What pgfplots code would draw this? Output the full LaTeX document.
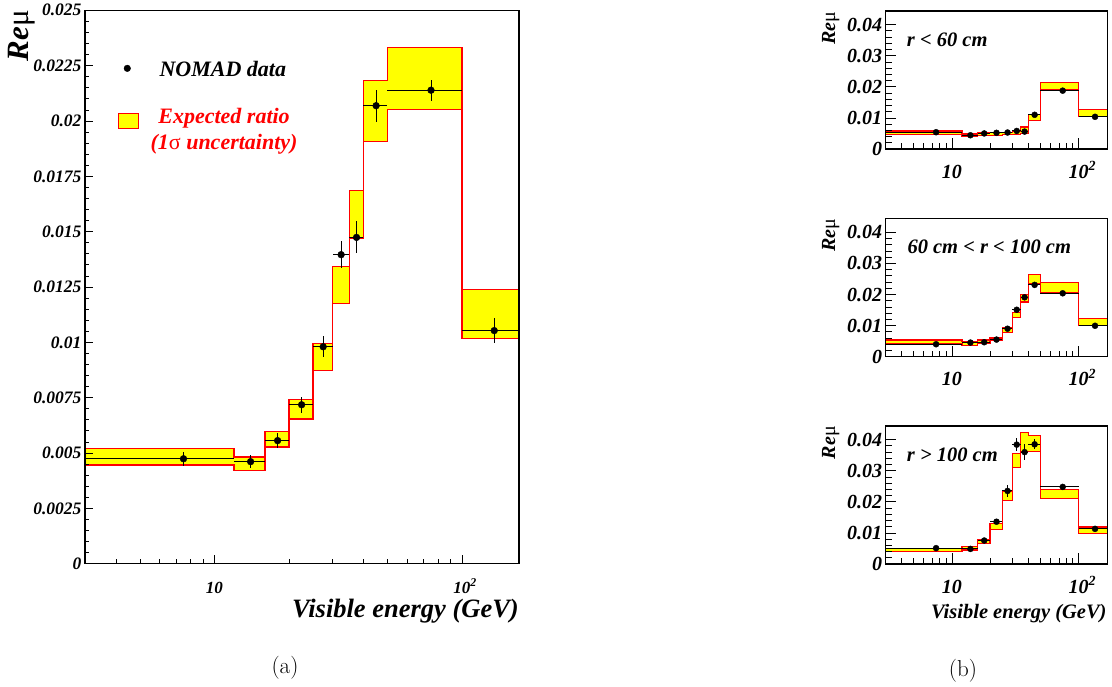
\documentclass[border=0pt]{standalone}
\usepackage{pgfplots}
\pgfplotsset{compat=1.18}
\usepackage{pgfplotstable}
\usepackage{fontspec}
\newfontfamily\tnr{Liberation Serif}
\newcommand\bif[1]{\tnr\bfseries\itshape\fontsize{#1}{#1}\selectfont}
\newcommand\upgr[1]{{\tnr\mdseries\upshape #1}}

\definecolor{bandyellow}{RGB}{255,255,0}
\definecolor{bandred}{RGB}{255,0,0}

% expected ratio: bin lower edge, upper and lower 1 sigma limits
\pgfplotstableread{
x    hi      lo
3    0       0
3    0.0052  0.00446
12   0.00482 0.00422
16   0.00598 0.00527
20   0.00741 0.00654
25   0.00996 0.00874
30   0.01342 0.01175
35   0.01685 0.01471
40   0.02184 0.01908
50   0.02333 0.02051
100  0.0124  0.01016
200  0.0124  0.01016
}\bandall
% NOMAD data: bin centre, ratio, half bin width, error
\pgfplotstableread{
x     y       ex   ey
7.5   0.00474 4.5  0.00032
14    0.00461 2    0.00030
18    0.00556 2    0.00034
22.5  0.00718 2.5  0.00035
27.5  0.0098  2.5  0.00047
32.5  0.01396 2.5  0.00062
37.5  0.01474 2.5  0.00072
45    0.02069 5    0.00073
75    0.02139 25   0.00048
135   0.01053 35   0.00056
}\dataall

% r < 60 cm
\pgfplotstableread{
x    hi      lo
3    0       0
3    0.0058  0.0046
12   0.00485 0.0041
16   0.0052  0.0044
20   0.0052  0.0044
25   0.0054  0.0046
30   0.0056  0.0046
35   0.0071  0.0049
40   0.0110  0.0092
50   0.0215  0.0190
100  0.0128  0.0104
200  0.0128  0.0104
}\bandA
\pgfplotstableread{
x     y       ex   ey
7.5   0.0054  4.5  0.0003
14    0.00442 2    0.0003
18    0.0050  2    0.0003
22.5  0.0052  2.5  0.0003
27.5  0.0053  2.5  0.0003
32.5  0.0058  2.5  0.0004
37.5  0.0056  2.5  0.0004
45    0.0110  5    0.0005
75    0.01877 25   0.0005
135   0.01036 35   0.0005
}\dataA

% 60 cm < r < 100 cm
\pgfplotstableread{
x    hi      lo
3    0       0
3    0.0054  0.0043
12   0.0048  0.0036
16   0.0054  0.0044
20   0.0060  0.0052
25   0.0095  0.0079
30   0.0143  0.0126
35   0.0200  0.0176
40   0.0264  0.0235
50   0.0238  0.0205
100  0.0124  0.00995
200  0.0124  0.00995
}\bandB
\pgfplotstableread{
x     y       ex   ey
7.5   0.0040  4.5  0.0003
14    0.00454 2    0.0003
18    0.00465 2    0.0003
22.5  0.0055  2.5  0.0004
27.5  0.0090  2.5  0.0005
32.5  0.0151  2.5  0.0008
37.5  0.0191  2.5  0.0009
45    0.0231  5    0.0009
75    0.0204  25   0.0006
135   0.00995 35   0.0006
}\dataB

% r > 100 cm
\pgfplotstableread{
x    hi      lo
3    0       0
3    0.0049  0.0040
12   0.0055  0.0045
16   0.0078  0.0066
20   0.0129  0.0112
25   0.0234  0.0203
30   0.0355  0.0310
35   0.0423  0.0361
40   0.0414  0.0361
50   0.0239  0.0210
100  0.0119  0.0097
200  0.0119  0.0097
}\bandC
\pgfplotstableread{
x     y       ex   ey
7.5   0.0051  4.5  0.0004
14    0.00485 2    0.0004
18    0.00755 2    0.0005
22.5  0.0136  2.5  0.0008
27.5  0.0235  2.5  0.0019
32.5  0.0384  2.5  0.0022
37.5  0.0360  2.5  0.0025
45    0.0385  5    0.0016
75    0.0248  25   0.0006
135   0.0113  35   0.0007
}\dataC

% yellow 1 sigma band (filled up to the upper limit, cleared below the
% lower limit) with its red outline
\newcommand\band[1]{%
  \addplot[fill=bandyellow, draw=none, const plot mark left, forget plot] table[x=x, y=hi]{#1} \closedcycle;
  \addplot[fill=white, draw=none, const plot mark left, forget plot] table[x=x, y=lo]{#1} \closedcycle;
  \addplot[bandred, line width=1.2pt, const plot mark left, forget plot] table[x=x, y=hi]{#1};
  \addplot[bandred, line width=1.2pt, const plot mark left, forget plot] table[x=x, y=lo]{#1};
}
% data points with bin width and error
\newcommand\points[2]{%
  \addplot[black, only marks, mark=*, mark size=#2, forget plot,
    error bars/.cd, x dir=both, x explicit, y dir=both, y explicit,
    error bar style={line width=1pt, black}, error mark=none]
    table[x=x, y=y, x error=ex, y error=ey]{#1};
}
% one of the three radial panels
\newcommand\radialpanel[3]{%
\begin{axis}[scale only axis, axis on top, xmode=log, xmin=3, xmax=170, ymin=0, ymax=0.0444,
  at={(885.7pt,#1)}, anchor=south west, width=222pt, height=138pt,
  axis line style={black, line width=1.1pt},
  major tick style={black, line width=0.8pt},
  minor tick style={black, line width=0.8pt},
  tick align=inside, xtick pos=left, ytick pos=left,
  xtick={10,100},
  minor xtick={4,5,6,7,8,9,20,30,40,50,60,70,80,90},
  scaled y ticks=false,
  ytick={0,0.01,0.02,0.03,0.04},
  yticklabels={0,0.01,0.02,0.03,0.04},
  minor y tick num=4,
  major tick length=10.5pt, minor tick length=6pt,
  xticklabels={10,10\rlap{\textsuperscript{2}}},
  yticklabel style={font=\bif{20}},
  xticklabel style={font=\bif{20}, anchor=base, yshift=-29.3pt},
]
\band{#2}
\points{#3}{3pt}
\end{axis}}

\begin{document}
\begin{tikzpicture}
\useasboundingbox (0,0) rectangle (1112pt,687pt);

% ---------- (a) all events ----------
\begin{axis}[scale only axis, axis on top, xmode=log, xmin=3, xmax=170, ymin=0, ymax=0.025,
  at={(85pt,123.3pt)}, anchor=south west,
  width=434pt, height=553.4pt,
  axis line style={black, line width=1.1pt},
  major tick style={black, line width=0.8pt},
  minor tick style={black, line width=0.8pt},
  tick align=inside, xtick pos=left, ytick pos=left,
  xtick={10,100},
  minor xtick={4,5,6,7,8,9,20,30,40,50,60,70,80,90},
  scaled y ticks=false,
  ytick={0,0.0025,0.005,0.0075,0.01,0.0125,0.015,0.0175,0.02,0.0225,0.025},
  yticklabels={0,0.0025,0.005,0.0075,0.01,0.0125,0.015,0.0175,0.02,0.0225,0.025},
  minor y tick num=4,
  major tick length=8.5pt, minor tick length=4.5pt,
  xticklabels={10,10\rlap{\textsuperscript{2}}},
  yticklabel style={font=\bif{17.5}},
  xticklabel style={font=\bif{17}, anchor=base, yshift=-29.5pt},
  legend style={at={(0.0753,0.9075)}, anchor=north west, draw=none, fill=none,
    inner sep=0pt, outer sep=0pt, row sep=24pt, column sep=0pt,
    nodes={inner sep=0pt, anchor=base west},
    font=\bif{22}\fontsize{22}{26}\selectfont},
]
\addlegendimage{legend image code/.code={
  \path[draw=none, fill=none] (0pt,-5pt) rectangle (32.3pt,12pt);
  \fill[black] (9pt,8.4pt) circle (3.3pt);}}
\addlegendentry{\hspace*{9pt}NOMAD data}
\addlegendimage{legend image code/.code={
  \path[draw=none, fill=none] (0pt,-5pt) rectangle (32.3pt,12pt);
  \draw[bandred, fill=bandyellow, line width=1.2pt] (0pt,-4.3pt) rectangle (20pt,10.7pt);}}
\addlegendentry{\textcolor{bandred}{\begin{tabular}[t]{@{}c@{}}Expected ratio\\(1\upgr{σ} uncertainty)\end{tabular}}}
\band{\bandall}
\points{\dataall}{3.4pt}
\end{axis}

% ---------- (b) radial bins ----------
\radialpanel{538pt}{\bandA}{\dataA}
\radialpanel{330.3pt}{\bandB}{\dataB}
\radialpanel{123pt}{\bandC}{\dataC}

% titles
\node[anchor=base east, font=\bif{26.5}, inner sep=0pt] at (519pt,69pt) {Visible energy (GeV)};
\node[anchor=base east, rotate=90, font=\bif{31}, inner sep=0pt] at (28.6pt,677pt) {Re\upgr{μ}};
\node[anchor=base, font=\fontsize{23}{27}\selectfont, inner sep=0pt] at (285pt,13pt) {(a)};

\node[anchor=base east, font=\bif{20.5}, inner sep=0pt] at (1106.7pt,68.7pt) {Visible energy (GeV)};
\foreach \ytop in {675.3,468.3,261}
  \node[anchor=base east, rotate=90, font=\bif{20}, inner sep=0pt] at (835pt,\ytop pt) {Re\upgr{μ}};
\node[anchor=base west, font=\bif{20.5}, inner sep=0pt] at (906.7pt,640.3pt) {r < 60 cm};
\node[anchor=base west, font=\bif{20.5}, inner sep=0pt] at (907.3pt,433.7pt) {60 cm < r < 100 cm};
\node[anchor=base west, font=\bif{20.5}, inner sep=0pt] at (906.7pt,225.3pt) {r > 100 cm};
\node[anchor=base, font=\fontsize{23}{27}\selectfont, inner sep=0pt] at (963pt,10pt) {(b)};
\end{tikzpicture}
\end{document}
